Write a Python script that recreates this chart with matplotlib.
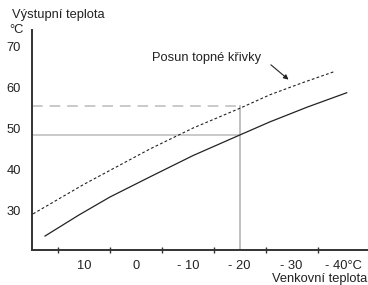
import matplotlib.pyplot as plt
import numpy as np

plt.rcParams['font.family'] = ['Liberation Sans', 'DejaVu Sans']

# curve data (outdoor temp, flow temp)
curve_x = [17.5, 11.0, 5.0, -2.7, -11.0, -20.0, -25.8, -33.0, -40.6]
curve_y = [23.9, 29.0, 33.4, 38.3, 43.5, 48.5, 51.7, 55.3, 58.8]
shift_x = [19.8, 10.0, -2.7, -11.0, -20.0, -25.8, -32.0, -38.1]
shift_y = [29.3, 36.5, 45.1, 50.2, 55.0, 58.3, 61.2, 63.9]

ref_x = -20
ref_y = 48.5
ref_shift_y = 55.5

y_ticks = [30, 40, 50, 60, 70]
x_label_pos = [10, 0, -10, -20, -30, -40]
x_labels = ['10', '0', '- 10', '- 20', '- 30', '- 40°C']
x_tick_marks = [15, 5, -5, -15, -25, -35]

fig = plt.figure(figsize=(3.68, 2.85), dpi=100)
ax = fig.add_axes([0.087, 0.1228, 0.913, 0.7722])
ax.set_xlim(20, -44.7)
ax.set_ylim(20.5, 74.1)

axcol = '#333333'
gray = '#bbbbbb'
fs = 9.3

# reference lines
ax.plot([20, ref_x], [ref_y, ref_y], color=gray, lw=1.1)
ax.plot([20, ref_x], [ref_shift_y, ref_shift_y], color=gray, lw=1.1, dashes=(7, 4.5))
ax.plot([ref_x, ref_x], [20.5, ref_shift_y], color=gray, lw=1.3)

ax.plot(curve_x, curve_y, color='#222222', lw=0.9)
ax.plot(shift_x, shift_y, color='#222222', lw=0.8, dashes=(2.5, 2))

ax.annotate('', xy=(-29.4, 62.0), xytext=(-26.0, 65.6),
            arrowprops=dict(arrowstyle='-|>', color='#222222', lw=0.8,
                            mutation_scale=7, shrinkA=0, shrinkB=0))
ax.text(152 / 368, 1 - 58 / 285, 'Posun topné křivky', transform=fig.transFigure,
        fontsize=fs, va='center', ha='left', color='#222222')

for s in ['top', 'right']:
    ax.spines[s].set_visible(False)
for s in ['left', 'bottom']:
    ax.spines[s].set_color(axcol)
    ax.spines[s].set_linewidth(1.4)

ax.set_yticks(y_ticks)
ax.set_yticklabels([str(v) for v in y_ticks])
ax.tick_params(axis='y', length=0, pad=8, labelsize=fs, labelcolor='#222222')
ax.set_xticks(x_label_pos)
ax.set_xticklabels(x_labels)
ax.set_xticks(x_tick_marks, minor=True)
ax.tick_params(axis='x', which='major', length=0, pad=7, labelsize=fs, labelcolor='#222222')
ax.tick_params(axis='x', which='minor', length=5, direction='inout', width=1.0, color=axcol)

fig.text(12 / 368, 1 - 15 / 285, 'Výstupní teplota', fontsize=fs, va='center', ha='left', color='#222222')
fig.text(9 / 368, 1 - 30 / 285, '°C', fontsize=fs, va='center', ha='left', color='#222222')
fig.text(367 / 368, 1 - 279 / 285, 'Venkovní teplota', fontsize=fs, va='center', ha='right', color='#222222')

fig.savefig('out.png', dpi=100)
